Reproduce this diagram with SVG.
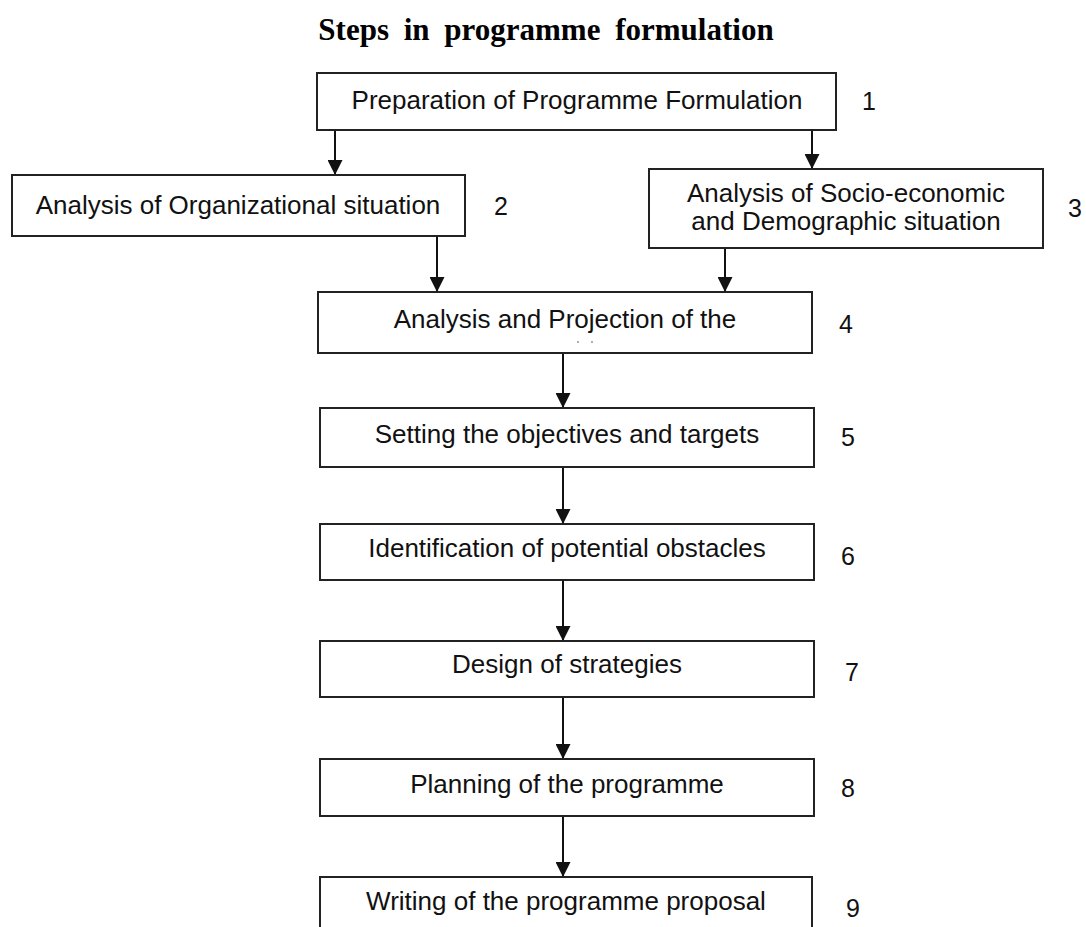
<svg xmlns="http://www.w3.org/2000/svg" width="1086" height="927" viewBox="0 0 1086 927">
<style>
.box{fill:#fff;stroke:#222;stroke-width:2}
.t{font-family:"Liberation Sans",Arial,sans-serif;font-size:26px;fill:#111;text-anchor:middle}
.n{font-family:"Liberation Sans",Arial,sans-serif;font-size:25px;fill:#111}
.title{font-family:"Liberation Serif","Times New Roman",serif;font-size:31px;font-weight:bold;fill:#000;text-anchor:middle;word-spacing:7px}
.c{stroke:#111;stroke-width:2;fill:none;marker-end:url(#ah)}
</style>
<defs>
<marker id="ah" markerUnits="userSpaceOnUse" markerWidth="15" markerHeight="15" refX="15" refY="7.5" orient="auto">
<path d="M0,0 L15,7.5 L0,15 z" fill="#111"/>
</marker>
</defs>
<rect width="1086" height="927" fill="#fff"/>
<text class="title" x="546" y="40">Steps in programme formulation</text>
<g id="connectors">
<path class="c" d="M335,130 V175"/>
<path class="c" d="M812,130 V169"/>
<path class="c" d="M437,236 V292"/>
<path class="c" d="M725,248 V292"/>
<path class="c" d="M563,353 V408"/>
<path class="c" d="M563,467 V524"/>
<path class="c" d="M563,580 V641"/>
<path class="c" d="M563,697 V759"/>
<path class="c" d="M563,816 V877"/>
</g>
<g id="node1"><rect class="box" x="317" y="73" width="519" height="57"/><text class="t" x="577" y="109">Preparation of Programme Formulation</text><text class="n" x="862" y="110">1</text></g>
<g id="node2"><rect class="box" x="12" y="175" width="453" height="61"/><text class="t" x="238" y="214">Analysis of Organizational situation</text><text class="n" x="494" y="215">2</text></g>
<g id="node3"><rect class="box" x="649" y="169" width="394" height="79"/><text class="t" x="846" y="202">Analysis of Socio-economic</text><text class="t" x="846" y="230">and Demographic situation</text><text class="n" x="1068" y="217">3</text></g>
<g id="node4"><rect class="box" x="318" y="292" width="494" height="61"/><text class="t" x="565" y="328">Analysis and Projection of the</text><circle cx="578" cy="342" r="0.9" fill="#888"/><circle cx="592" cy="342" r="0.9" fill="#888"/><text class="n" x="839" y="333">4</text></g>
<g id="node5"><rect class="box" x="320" y="408" width="494" height="59"/><text class="t" x="567" y="443">Setting the objectives and targets</text><text class="n" x="841" y="446">5</text></g>
<g id="node6"><rect class="box" x="320" y="524" width="494" height="56"/><text class="t" x="567" y="557">Identification of potential obstacles</text><text class="n" x="841" y="565">6</text></g>
<g id="node7"><rect class="box" x="320" y="641" width="494" height="56"/><text class="t" x="567" y="673">Design of strategies</text><text class="n" x="845" y="681">7</text></g>
<g id="node8"><rect class="box" x="320" y="759" width="494" height="57"/><text class="t" x="567" y="793">Planning of the programme</text><text class="n" x="841" y="797">8</text></g>
<g id="node9"><rect class="box" x="320" y="877" width="492" height="80"/><text class="t" x="566" y="910">Writing of the programme proposal</text><text class="n" x="846" y="917">9</text></g>
</svg>
